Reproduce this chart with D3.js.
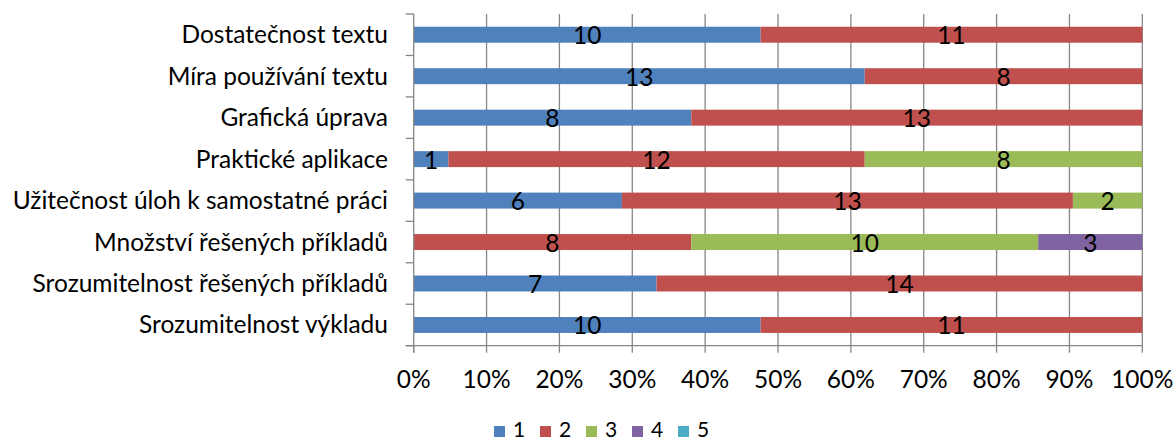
<!DOCTYPE html>
<html><head><meta charset="utf-8">
<script src="https://cdn.jsdelivr.net/npm/d3@7"></script>
<style>body{margin:0;background:#fff}svg{display:block}text{font-family:Lato, "Open Sans", sans-serif;fill:#000}</style>
</head><body>
<svg id="c" width="1176" height="443"></svg>
<script>
const categories = ["Dostatečnost textu","Míra používání textu","Grafická úprava","Praktické aplikace","Užitečnost úloh k samostatné práci","Množství řešených příkladů","Srozumitelnost řešených příkladů","Srozumitelnost výkladu"];
const seriesNames = ["1","2","3","4","5"];
const s1 = [10,13,8,1,6,0,7,10];
const s2 = [11,8,13,12,13,8,14,11];
const s3 = [0,0,0,8,2,10,0,0];
const s4 = [0,0,0,0,0,3,0,0];
const s5 = [0,0,0,0,0,0,0,0];
const colors = ["#4F81BD","#C0504D","#9BBB59","#8064A2","#4BACC6"];
const tickLabels = ["0%","10%","20%","30%","40%","50%","60%","70%","80%","90%","100%"];

const series = [s1,s2,s3,s4,s5];
const rows = categories.map((c,i)=>{const o={cat:c}; seriesNames.forEach((k,j)=>o[k]=series[j][i]); return o;});
const stacked = d3.stack().keys(seriesNames).offset(d3.stackOffsetExpand)(rows);

const svg = d3.select("#c");
const L=413.7, R=1142.3, T=14, B=345.7;
const x = d3.scaleLinear().domain([0,1]).range([L,R]);
const y = d3.scaleBand().domain(categories).range([T,B]).paddingInner(0.615).paddingOuter(0.3075);
const yb = d3.scaleBand().domain(categories).range([T,B]);
const FS = 24.5;

// gridlines
svg.append("g").selectAll("line").data(d3.range(1,11).map(d=>d/10)).join("line")
  .attr("x1",d=>x(d)).attr("x2",d=>x(d)).attr("y1",T).attr("y2",B)
  .attr("stroke","#868686").attr("stroke-width",1.3);

// bars
const g = svg.append("g");
stacked.forEach((s,si)=>{
  g.append("g").selectAll("rect").data(s).join("rect")
    .attr("x",d=>x(d[0])).attr("width",d=>x(d[1])-x(d[0]))
    .attr("y",(d,i)=>y(categories[i])).attr("height",y.bandwidth())
    .attr("fill",colors[si]);
});
// labels
stacked.forEach((s,si)=>{
  g.append("g").selectAll("text").data(s.map((d,i)=>({d,i,v:series[si][i]})).filter(o=>o.v>0)).join("text")
    .attr("x",o=>x((o.d[0]+o.d[1])/2)).attr("y",o=>y(categories[o.i])+y.bandwidth()/2+9.5)
    .attr("text-anchor","middle").style("font-size",FS+"px").text(o=>o.v);
});

// y axis
svg.append("line").attr("x1",L).attr("x2",L).attr("y1",T).attr("y2",B+7).attr("stroke","#868686").attr("stroke-width",1.3);
svg.append("g").selectAll("line").data(d3.range(0,9)).join("line")
  .attr("x1",L-8).attr("x2",L).attr("y1",i=>T+i*yb.step()).attr("y2",i=>T+i*yb.step())
  .attr("stroke","#868686").attr("stroke-width",1.3);
svg.append("g").selectAll("text").data(categories).join("text")
  .attr("x",388).attr("y",d=>yb(d)+yb.bandwidth()/2+8.5).attr("text-anchor","end")
  .style("font-size",FS+"px").text(d=>d);

// x axis
svg.append("line").attr("x1",L-8).attr("x2",R).attr("y1",B).attr("y2",B).attr("stroke","#868686").attr("stroke-width",1.3);
svg.append("g").selectAll("line").data(d3.range(0,11).map(d=>d/10)).join("line")
  .attr("x1",d=>x(d)).attr("x2",d=>x(d)).attr("y1",B).attr("y2",B+7)
  .attr("stroke","#868686").attr("stroke-width",1.3);
svg.append("g").selectAll("text").data(tickLabels).join("text")
  .attr("x",(d,i)=>x(i/10)).attr("y",388).attr("text-anchor","middle")
  .style("font-size",FS+"px").text(d=>d);

// legend
const lg = svg.append("g");
seriesNames.forEach((n,i)=>{
  const lx = 494 + i*46;
  lg.append("rect").attr("x",lx).attr("y",426).attr("width",11).attr("height",11).attr("fill",colors[i]);
  lg.append("text").attr("x",lx+19).attr("y",437).style("font-size","21px").text(n);
});
</script>
</body></html>
